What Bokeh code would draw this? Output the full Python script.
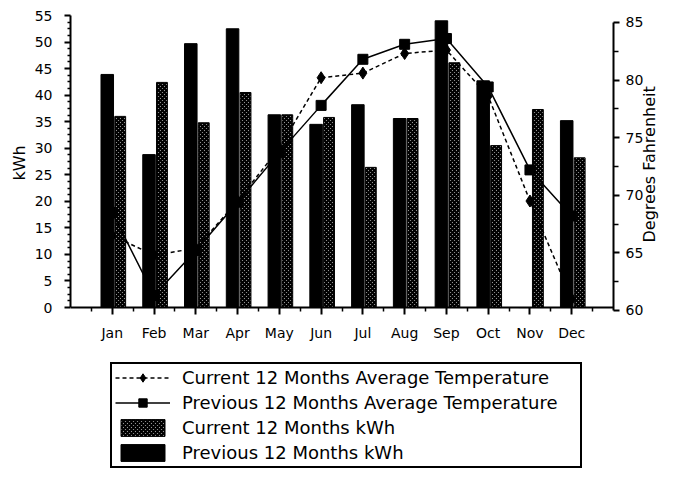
import math
from bokeh.plotting import figure
from bokeh.models import Range1d, LinearAxis, FixedTicker, Legend, LegendItem, ColumnDataSource, Title
from bokeh.transform import dodge
from bokeh.embed import file_html
from bokeh.resources import INLINE

months = ["Jan", "Feb", "Mar", "Apr", "May", "Jun", "Jul", "Aug", "Sep", "Oct", "Nov", "Dec"]
prev_kwh = [43.9, 28.8, 49.7, 52.5, 36.3, 34.5, 38.2, 35.6, 54.0, 42.7, 0.0, 35.2]
curr_kwh = [36.0, 42.4, 34.8, 40.5, 36.3, 35.8, 26.4, 35.6, 46.1, 30.5, 37.3, 28.2]
curr_temp = [66.5, 64.8, 65.4, 69.5, 74.1, 80.2, 80.6, 82.3, 82.6, 78.6, 69.5, 61.0]
prev_temp = [68.5, 61.3, 65.2, 69.4, 73.7, 77.8, 81.8, 83.1, 83.6, 79.4, 72.2, 68.2]
kwh_ticks = list(range(0, 56, 5))
temp_ticks = list(range(60, 86, 5))

FONT = "DejaVu Sans"

src = ColumnDataSource(dict(
    x=[i + 1 for i in range(len(months))],
    prev=prev_kwh, curr=curr_kwh, ct=curr_temp, pt=prev_temp,
))

p = figure(width=671, height=471, x_range=Range1d(0, 13), y_range=Range1d(-30.5, 55),
           output_backend="svg", toolbar_location=None,
           min_border_left=70, min_border_right=50, min_border_top=15, min_border_bottom=2)
p.outline_line_color = None
p.xgrid.visible = False
p.ygrid.visible = False
p.background_fill_color = "white"

# left axis (kWh)
ly = p.yaxis[0]
ly.ticker = FixedTicker(ticks=kwh_ticks, minor_ticks=[i * 1.25 for i in range(45) if i % 4])
ly.bounds = (0, 55)

# x axis drawn at kWh = 0
xa = p.xaxis[0]
xa.ticker = FixedTicker(ticks=list(range(1, 13)), minor_ticks=[i + 0.5 for i in range(13)])
xa.major_label_overrides = {i + 1: m for i, m in enumerate(months)}
xa.fixed_location = 0
xa.bounds = (0, 13)

p.extra_y_ranges = {"temp": Range1d(46.2, 85.6)}
ry = LinearAxis(y_range_name="temp", axis_label="Degrees Fahrenheit", bounds=(60, 85),
                ticker=FixedTicker(ticks=temp_ticks, minor_ticks=[t + 2.5 for t in temp_ticks[:-1]]))
p.add_layout(ry, "right")

for ax in [ly, xa, ry]:
    ax.axis_line_color = "black"
    ax.axis_line_width = 2
    ax.major_tick_line_color = "black"
    ax.major_tick_line_width = 2
    ax.minor_tick_line_color = "black"
    ax.minor_tick_line_width = 1.5
    ax.major_tick_in = 0
    ax.minor_tick_in = 0
    ax.major_label_text_font = FONT
    ax.major_label_text_font_size = "14px"
    ax.major_label_text_color = "black"
    ax.axis_label_text_font = FONT
    ax.axis_label_text_font_size = "16px"
    ax.axis_label_text_font_style = "normal"
    ax.axis_label_text_color = "black"

ly.major_tick_out = 6
ly.minor_tick_out = 3
ly.major_label_standoff = 12
xa.major_tick_out = 7
xa.minor_tick_out = 4
xa.major_label_standoff = 10
ry.major_tick_out = 6
ry.minor_tick_out = 5
ry.major_label_standoff = 6
ry.axis_label_standoff = 3
ry.axis_label_orientation = math.pi / 2

kwh_title = Title(text="kWh", align="left", offset=289, vertical_align="middle",
                  text_font=FONT, text_font_size="16px", text_font_style="normal",
                  text_color="black", standoff=4)
p.add_layout(kwh_title, "left")

b_prev = p.vbar(x=dodge("x", -0.12, range=p.x_range), top="prev", width=0.3, bottom=0,
                fill_color="black", line_color="black", source=src)
b_curr = p.vbar(x=dodge("x", 0.19, range=p.x_range), top="curr", width=0.26, bottom=0,
                fill_color="white", line_color="black", line_width=1,
                hatch_pattern="x", hatch_color="black", hatch_scale=4, hatch_weight=2.4, source=src)

l_prev = p.line("x", "pt", y_range_name="temp", line_color="black", line_width=1.5, source=src)
s_prev = p.scatter("x", "pt", y_range_name="temp", marker="square", size=10,
                   fill_color="black", line_color="black", source=src)
l_curr = p.line("x", "ct", y_range_name="temp", line_color="black", line_width=1.5,
                line_dash="4 3", source=src)
s_curr = p.scatter("x", "ct", y_range_name="temp", marker="diamond", size=12,
                   fill_color="black", line_color="black", source=src)

legend = Legend(items=[
    LegendItem(label="Current 12 Months Average Temperature", renderers=[l_curr, s_curr]),
    LegendItem(label="Previous 12 Months Average Temperature", renderers=[l_prev, s_prev]),
    LegendItem(label="Current 12 Months kWh", renderers=[b_curr]),
    LegendItem(label="Previous 12 Months kWh", renderers=[b_prev]),
], location=(40, 1), orientation="vertical",
    label_text_font=FONT, label_text_font_size="18px", label_text_color="black",
    glyph_width=55, glyph_height=21, label_height=21, spacing=4, padding=3,
    label_standoff=12, label_width=395, margin=0,
    border_line_color="black", border_line_width=2, border_line_alpha=1.0,
    background_fill_color="white", background_fill_alpha=1.0)
p.add_layout(legend, "center")

open("out.html", "w").write(file_html(p, INLINE))
